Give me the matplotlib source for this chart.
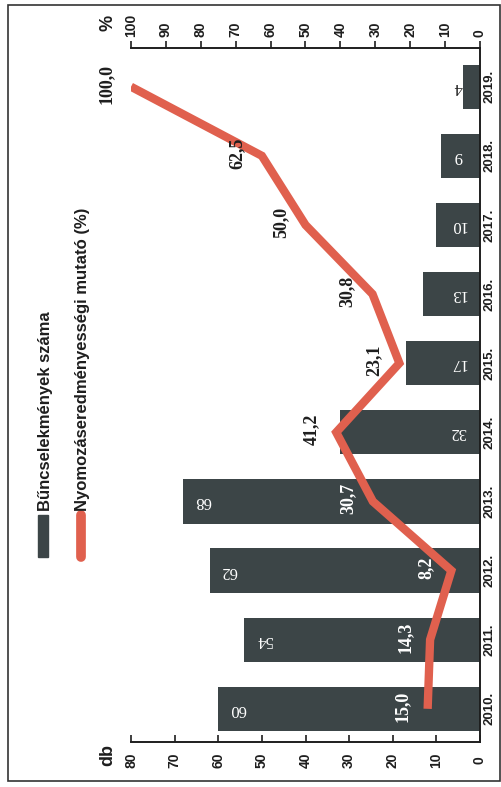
import numpy as np
import matplotlib
matplotlib.use("Agg")
import matplotlib.pyplot as plt
from matplotlib.patches import Rectangle
from matplotlib.lines import Line2D

# adatok
years = [2010, 2011, 2012, 2013, 2014, 2015, 2016, 2017, 2018, 2019]
counts = [60, 54, 62, 68, 32, 17, 13, 10, 9, 4]
pct = [15.0, 14.3, 8.2, 30.7, 41.2, 23.1, 30.8, 50.0, 62.5, 100.0]
db_ticks = [0, 10, 20, 30, 40, 50, 60, 70, 80]
pct_ticks = [0, 10, 20, 30, 40, 50, 60, 70, 80, 90, 100]
legend_bar = "Bűncselekmények száma"
legend_line = "Nyomozáseredményességi mutató (%)"

BAR = "#3c4547"
RED = "#e0604e"
INK = "#1e1e1e"
SANS = "Liberation Sans"
SERIF = "Liberation Serif"

W, H = 501, 787
fig = plt.figure(figsize=(W / 100, H / 100), dpi=100)


def fx(px):
    return px / W


def fy(py):
    return 1 - py / H


# the whole chart is turned 90 degrees: years run upwards, values grow to the left
ax = fig.add_axes([fx(131), fy(742), fx(480) - fx(131), (742 - 48) / H])
yy = np.arange(len(years))
ax.barh(yy, counts, height=0.64, color=BAR, zorder=2)
ax.set_xlim(80, 0)
ax.set_ylim(-0.48, 9.56)

ax.set_xticks(db_ticks, [str(t) for t in db_ticks], rotation=90, va="center",
              fontweight="bold", fontsize=10, family=SANS, color=INK)
ax.tick_params(axis="x", direction="in", length=5, width=1.2, pad=13, colors=INK)

ax.yaxis.tick_right()
ax.set_yticks(yy, [f"{y}." for y in years], rotation=90, va="center",
              fontweight="bold", fontsize=9.5, family=SANS, color=INK)
ax.tick_params(axis="y", length=0, pad=2.5)

for s in ["left", "top"]:
    ax.spines[s].set_visible(False)
for s in ["bottom", "right"]:
    ax.spines[s].set_linewidth(1.4)
    ax.spines[s].set_color(INK)

# bar values (upside down in the scan)
for yi, c in zip(yy, counts):
    pos = c - 4.5 if c > 40 else 5.0
    col = "white" if pos < c else INK
    ax.text(pos, yi, str(c), rotation=180, ha="center", va="center",
            family=SERIF, fontsize=12, color=col, zorder=3)

ax2 = ax.twiny()
ax2.set_xlim(100, 0)
ax2.set_xticks(pct_ticks, [str(t) for t in pct_ticks], rotation=90,
               fontweight="bold", fontsize=10, family=SANS, color=INK)
ax2.tick_params(axis="x", direction="out", length=5, width=1.2, pad=3, colors=INK)
for s in ["left", "bottom", "right"]:
    ax2.spines[s].set_visible(False)
ax2.spines["top"].set_linewidth(1.4)
ax2.spines["top"].set_color(INK)

ax2.plot(pct, yy, color=RED, lw=6, solid_capstyle="butt", solid_joinstyle="miter", zorder=4)

for yi, p, c in zip(yy, pct, counts):
    inside = (p + 7) * 0.8 < c
    ax2.annotate(f"{p:.1f}".replace(".", ","), (p, yi), xytext=(-18, 2),
                 textcoords="offset points", rotation=90, ha="center", va="center",
                 family=SERIF, fontweight="bold", fontsize=13,
                 color="white" if inside else INK, zorder=5)

# axis titles
fig.text(fx(108), fy(755), "db", rotation=90, ha="center", va="center",
         fontweight="bold", fontsize=13, family=SANS, color=INK)
fig.text(fx(108), fy(23), "%", rotation=90, ha="center", va="center",
         fontweight="bold", fontsize=13, family=SANS, color=INK)

# legend drawn by hand (rotated)
fig.patches.append(Rectangle((fx(38), fy(557)), fx(48) - fx(38), (557 - 515) / H,
                             transform=fig.transFigure, color=BAR))
fig.text(fx(46), fy(511), legend_bar, rotation=90, ha="center", va="bottom",
         fontweight="bold", fontsize=12, family=SANS, color=INK)
fig.lines.append(Line2D([fx(81), fx(81)], [fy(557), fy(515)], lw=7, color=RED,
                        solid_capstyle="round", transform=fig.transFigure))
fig.text(fx(83), fy(511), legend_line, rotation=90, ha="center", va="bottom",
         fontweight="bold", fontsize=12, family=SANS, color=INK)

# frame of the scanned figure
fig.patches.append(Rectangle((fx(8), fy(781)), fx(500) - fx(8), (781 - 5) / H,
                             transform=fig.transFigure, fill=False, lw=1.2, ec="#333333"))

fig.savefig("out.png", dpi=100)
